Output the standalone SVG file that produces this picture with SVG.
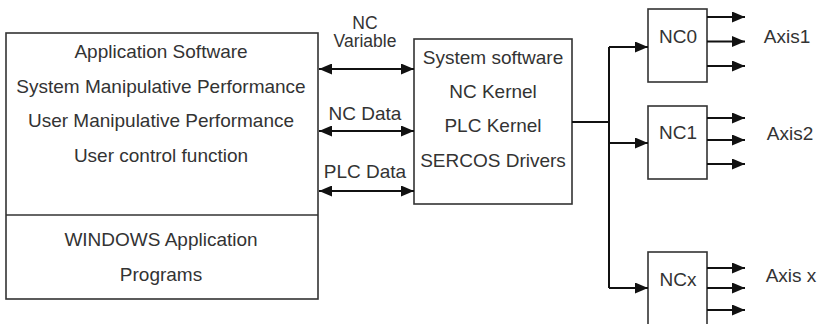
<svg xmlns="http://www.w3.org/2000/svg" width="820" height="324" viewBox="0 0 820 324">
<style>
text{font-family:"Liberation Sans",Arial,sans-serif;font-size:19px;fill:#333;text-anchor:middle}
.box{fill:#fff;stroke:#333;stroke-width:1.6}
.c{fill:none;stroke:#111;stroke-width:2}
.a{marker-end:url(#ah)}
.d{marker-start:url(#ah);marker-end:url(#ah)}
</style>
<defs>
<marker id="ah" markerUnits="userSpaceOnUse" markerWidth="13" markerHeight="11" refX="13" refY="5.5" orient="auto-start-reverse">
<path d="M0,0 L13,5.5 L0,11 z" fill="#111"/>
</marker>
</defs>
<rect width="820" height="324" fill="#fff"/>
<g id="app">
<rect class="box" x="6" y="33" width="312" height="266"/>
<line x1="6" y1="215" x2="318" y2="215" stroke="#333" stroke-width="1.6"/>
<text x="161" y="58">Application Software</text>
<text x="161" y="93">System Manipulative Performance</text>
<text x="161" y="127">User Manipulative Performance</text>
<text x="161" y="162">User control function</text>
<text x="161" y="246">WINDOWS Application</text>
<text x="161" y="281">Programs</text>
</g>
<g id="sys">
<rect class="box" x="414" y="39" width="158" height="165"/>
<text x="493" y="64">System software</text>
<text x="493" y="98">NC Kernel</text>
<text x="493" y="132">PLC Kernel</text>
<text x="493" y="167">SERCOS Drivers</text>
</g>
<g id="nc0">
<rect class="box" x="648" y="9" width="59" height="73"/>
<text x="678" y="42.5">NC0</text>
</g>
<g id="nc1">
<rect class="box" x="648" y="106" width="59" height="73"/>
<text x="678" y="139">NC1</text>
</g>
<g id="ncx">
<rect class="box" x="648" y="252" width="59" height="100"/>
<text x="678" y="286">NCx</text>
</g>
<g id="labels">
<text x="365" y="29" style="font-size:17.5px">NC</text>
<text x="365" y="46.5" style="font-size:17.5px">Variable</text>
<text x="365" y="120">NC Data</text>
<text x="365" y="178">PLC Data</text>
<text x="787" y="42.5">Axis1</text>
<text x="790" y="140">Axis2</text>
<text x="791" y="282">Axis x</text>
</g>
<g id="connectors">
<line class="c d" x1="319" y1="69" x2="414" y2="69"/>
<line class="c d" x1="319" y1="131" x2="414" y2="131"/>
<line class="c d" x1="319" y1="191" x2="414" y2="191"/>
<path class="c" d="M572,122 H609 M609,47 V288"/>
<path class="c a" d="M609,47 H648"/>
<path class="c a" d="M609,143 H648"/>
<path class="c a" d="M609,288 H648"/>
<path class="c a" d="M707,17 H745"/>
<path class="c a" d="M707,41.5 H745"/>
<path class="c a" d="M707,66 H745"/>
<path class="c a" d="M707,118 H745"/>
<path class="c a" d="M707,140 H745"/>
<path class="c a" d="M707,164 H745"/>
<path class="c a" d="M707,268 H745"/>
<path class="c a" d="M707,288 H745"/>
<path class="c a" d="M707,310 H745"/>
</g>
</svg>
